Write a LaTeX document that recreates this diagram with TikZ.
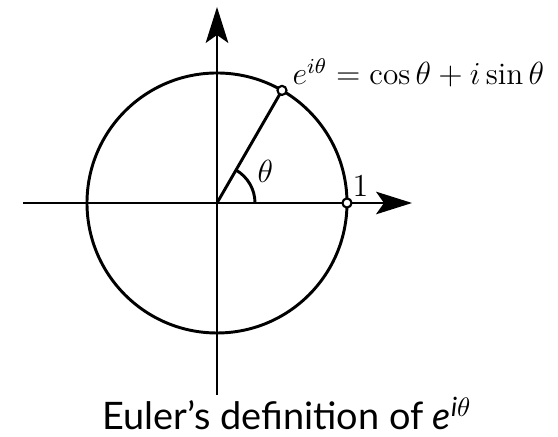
\documentclass[tikz,border=0pt]{standalone}
\usepackage{fontspec}
\newfontfamily\capfont{Lato}
\usetikzlibrary{arrows.meta}

\begin{document}
\begin{tikzpicture}[
  x=0.375pt, y=0.375pt,
  axis/.style={line width=0.5pt, -{Stealth[length=13.5pt, width=8.5pt, inset=3pt]}},
  unit/.style={line width=1.1pt},
  dot/.style={circle, draw, line width=0.8pt, fill=white, inner sep=0pt, minimum size=3.4pt},
  lbl/.style={anchor=base west, inner sep=0pt, font=\fontsize{11.7}{14}\selectfont}
]
\useasboundingbox (-217,-234) rectangle (341,203);
% axes
\coordinate (O) at (0,0);
\coordinate (xl) at (-194,0);
\coordinate (xr) at (195,0);
\coordinate (yb) at (0,-192);
\coordinate (yt) at (0,196);
\draw[axis] (xl) -- (xr);
\draw[axis] (yb) -- (yt);
% unit circle and angle
\draw[unit] (O) circle[radius=130];
\coordinate (ray) at (60:130);
\draw[unit] (O) -- (ray);
\draw[unit] (38,0) arc[start angle=0, end angle=60, radius=38];
\node[dot] (one) at (0:130) {};
\node[dot] (z) at (ray) {};
% labels
\node[lbl] (lone) at (135,6) {$1$};
\node[lbl] (ltheta) at (40,20) {$\theta$};
\node[lbl] (lz) at (75,118) {$e^{i\theta}=\cos\theta+i\sin\theta$};
\node[anchor=base, inner sep=0pt, font=\capfont\fontsize{14.2}{17}\selectfont] (cap) at (70,-227) {Euler’s definition of \textit{e}\textsuperscript{\itshape i$\theta$}};
\end{tikzpicture}
\end{document}
